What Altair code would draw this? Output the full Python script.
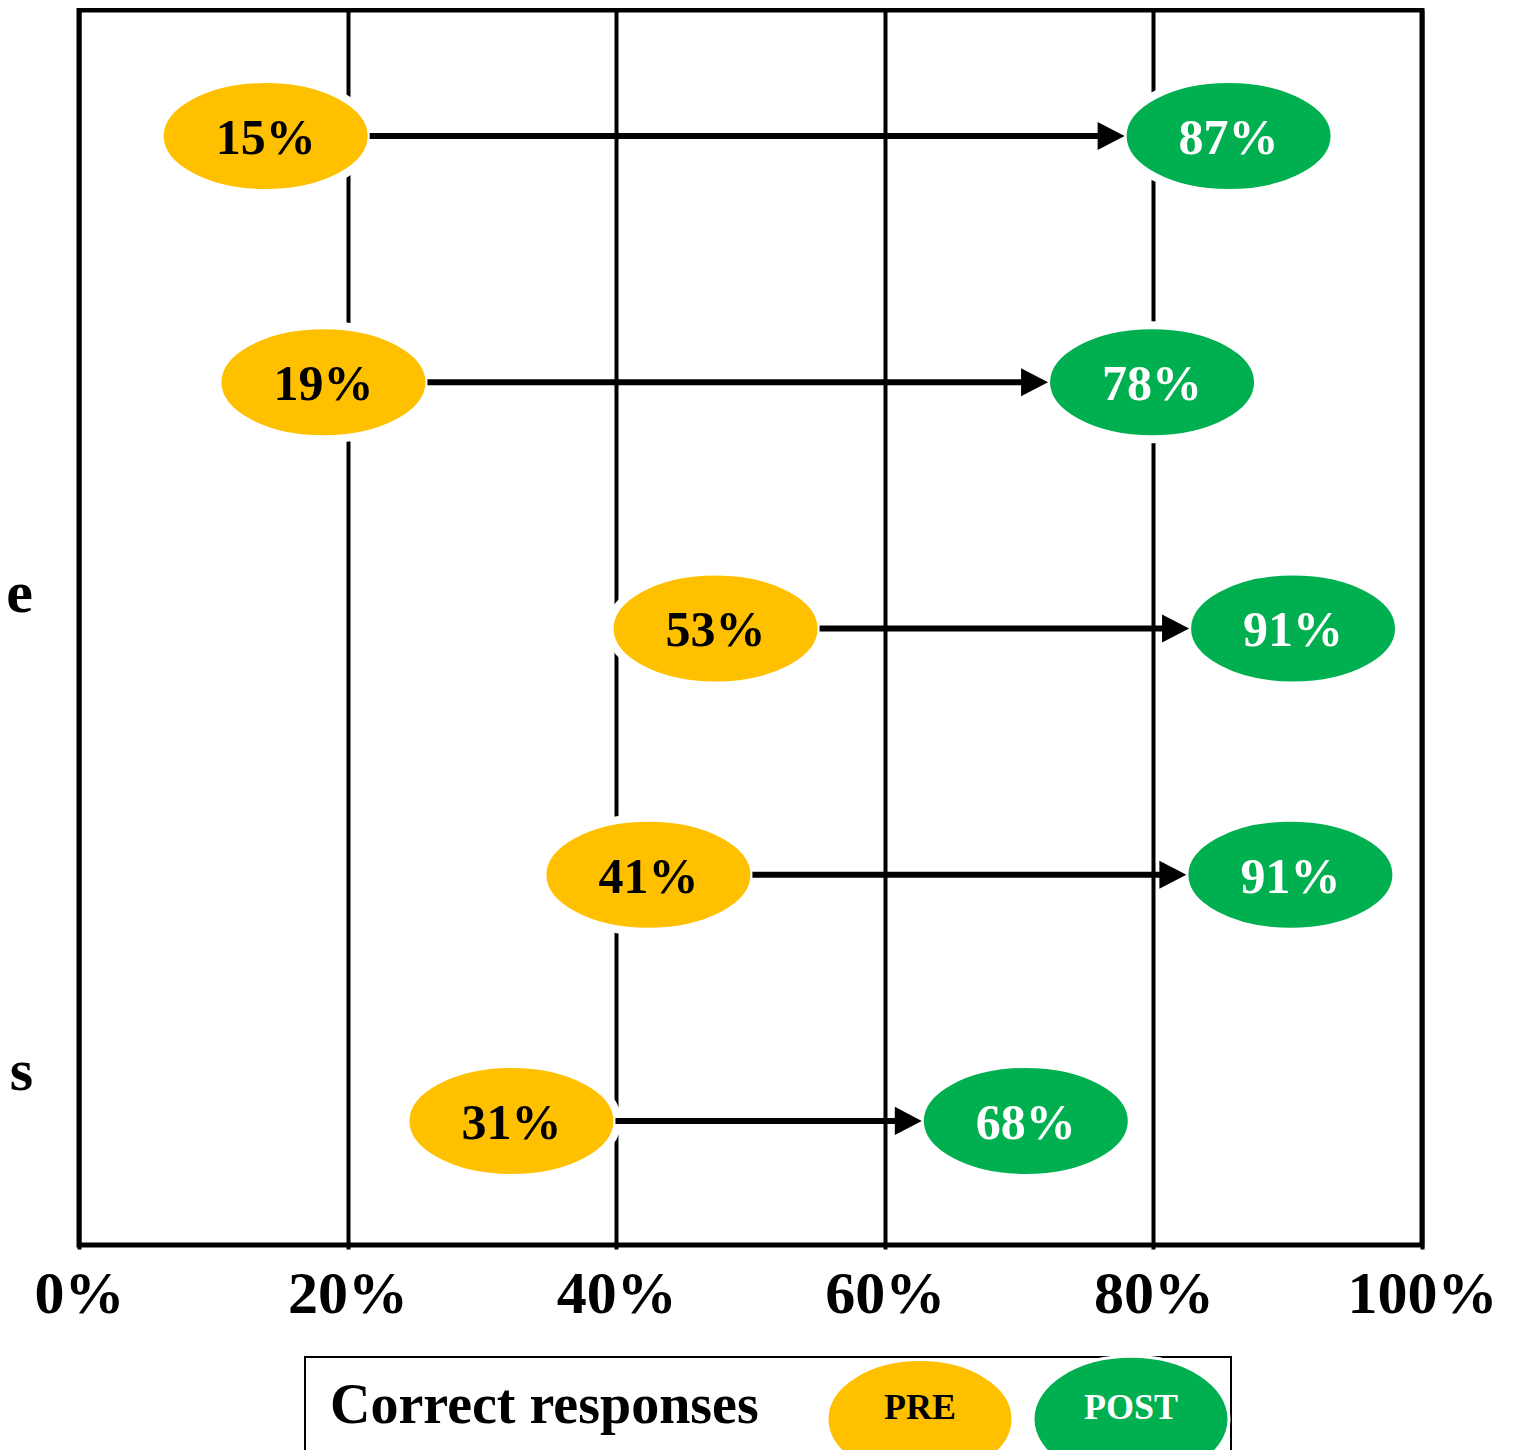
import altair as alt
import pandas as pd

# ---------------- data ----------------
rows = [1, 2, 3, 4, 5]
pre_values = [15, 19, 53, 41, 31]
post_values = [87, 78, 91, 91, 68]
# where the ellipses actually sit on the 0-100 % axis
pre_marker_pos = [13.9, 18.2, 47.4, 42.4, 32.2]
post_marker_pos = [85.6, 79.9, 90.4, 90.2, 70.5]
x_ticks = [0, 20, 40, 60, 80, 100]
legend_title = "Correct responses"
legend_labels = ["PRE", "POST"]
label_tails = ["e", "s"]  # visible ends of the cropped row labels

PRE_COLOR = "#FFC000"
POST_COLOR = "#00B050"
FONT = "Liberation Serif"

W, H = 1343, 1235
PX_PER_PCT = W / 100.0
ELL_W, ELL_H = 212, 114
HALF_W = (ELL_W / 2 - 2) / PX_PER_PCT
HEAD_LEN = 27


def ellipse_path(ratio):
    k = 0.5523
    r = ratio
    return (f"M1,0 C1,{k*r:.4f} {k:.4f},{r:.4f} 0,{r:.4f} "
            f"C{-k:.4f},{r:.4f} -1,{k*r:.4f} -1,0 "
            f"C-1,{-k*r:.4f} {-k:.4f},{-r:.4f} 0,{-r:.4f} "
            f"C{k:.4f},{-r:.4f} 1,{-k*r:.4f} 1,0 Z")


df = pd.DataFrame({
    "row": rows,
    "pre": pre_values,
    "post": post_values,
    "pre_pos": pre_marker_pos,
    "post_pos": post_marker_pos,
})
df["pre_label"] = df["pre"].astype(str) + "%"
df["post_label"] = df["post"].astype(str) + "%"
df["arrow_start"] = df["pre_pos"] + HALF_W
df["arrow_end"] = df["post_pos"] - HALF_W
df["line_end"] = df["arrow_end"] - (HEAD_LEN * 0.6) / PX_PER_PCT

xs = alt.Scale(domain=[0, 100], nice=False, zero=False)
ys = alt.Scale(domain=[0.488, 5.504], reverse=True, nice=False, zero=False)

x_axis = alt.Axis(
    values=x_ticks, labelExpr="datum.value + '%'", title=None,
    grid=True, gridColor="black", gridWidth=4, gridOpacity=1,
    domain=False, ticks=True, tickSize=4, tickWidth=4, tickColor="black",
    labelFont=FONT, labelFontWeight="bold", labelFontSize=60, labelColor="black",
    labelPadding=16, labelFlush=False, labelOverlap=False,
)

base = alt.Chart(df)

pre_ell = base.mark_point(
    shape=ellipse_path(ELL_H / ELL_W), size=ELL_W ** 2, filled=True,
    fill=PRE_COLOR, fillOpacity=1, stroke="white", strokeWidth=8, strokeOpacity=1,
).encode(
    x=alt.X("pre_pos:Q", scale=xs, axis=x_axis),
    y=alt.Y("row:Q", scale=ys, axis=None),
)
post_ell = base.mark_point(
    shape=ellipse_path(ELL_H / ELL_W), size=ELL_W ** 2, filled=True,
    fill=POST_COLOR, fillOpacity=1, stroke="white", strokeWidth=8, strokeOpacity=1,
).encode(x=alt.X("post_pos:Q", scale=xs), y=alt.Y("row:Q", scale=ys))

arrow_line = base.mark_rule(color="black", strokeWidth=6).encode(
    x=alt.X("arrow_start:Q", scale=xs), x2="line_end:Q", y=alt.Y("row:Q", scale=ys)
)
arrow_head = base.mark_point(
    shape="M0,0 L-1,-0.52 L-1,0.52 Z", size=(2 * HEAD_LEN) ** 2, filled=True,
    fill="black", fillOpacity=1, strokeWidth=0,
).encode(x=alt.X("arrow_end:Q", scale=xs), y=alt.Y("row:Q", scale=ys))

pre_txt = base.mark_text(
    font=FONT, fontWeight="bold", fontSize=50, color="black", baseline="middle", dy=3
).encode(x=alt.X("pre_pos:Q", scale=xs), y=alt.Y("row:Q", scale=ys), text="pre_label:N")
post_txt = base.mark_text(
    font=FONT, fontWeight="bold", fontSize=50, color="white", baseline="middle", dy=3
).encode(x=alt.X("post_pos:Q", scale=xs), y=alt.Y("row:Q", scale=ys), text="post_label:N")

# cropped row-label tails on the left
tails = []
for txt, ypix in zip(label_tails, [602, 1080]):
    tails.append(
        alt.Chart(pd.DataFrame({"t": [txt]})).mark_text(
            font=FONT, fontWeight="bold", fontSize=60, color="black",
            align="right", baseline="alphabetic",
        ).encode(x=alt.value(-46), y=alt.value(ypix), text="t:N")
    )

# legend (drawn by hand below the axis)
one = pd.DataFrame({"t": [legend_title]})
leg_box = alt.Chart(one).mark_rect(
    fillOpacity=0, stroke="black", strokeWidth=2
).encode(x=alt.value(226), x2=alt.value(1152), y=alt.value(1347), y2=alt.value(1480))
leg_title = alt.Chart(one).mark_text(
    font=FONT, fontWeight="bold", fontSize=56, color="black", align="left", baseline="middle"
).encode(x=alt.value(251), y=alt.value(1396), text="t:N")

leg_items = []
for lab, col, tcol, cx, w in zip(legend_labels, [PRE_COLOR, POST_COLOR], ["black", "white"],
                                 [841, 1052], [186, 196]):
    d = pd.DataFrame({"t": [lab]})
    leg_items.append(
        alt.Chart(d).mark_point(
            shape=ellipse_path(0.64), size=w ** 2, filled=True, fill=col, fillOpacity=1,
            stroke="white", strokeWidth=3, strokeOpacity=1,
        ).encode(x=alt.value(cx), y=alt.value(1409))
    )
    leg_items.append(
        alt.Chart(d).mark_text(
            font=FONT, fontWeight="bold", fontSize=36, color=tcol, baseline="middle"
        ).encode(x=alt.value(cx), y=alt.value(1398), text="t:N")
    )

chart = alt.layer(
    pre_ell, post_ell, arrow_line, arrow_head, pre_txt, post_txt,
    *tails, leg_box, leg_title, *leg_items,
).properties(
    width=W, height=H,
    background="white",
    padding={"left": 71, "top": 2, "right": 70, "bottom": 205},
    autosize=alt.AutoSizeParams(type="none"),
).configure_view(
    stroke="black", strokeWidth=5
)

chart.save("out.html", embed_options={"renderer": "svg", "actions": False})
